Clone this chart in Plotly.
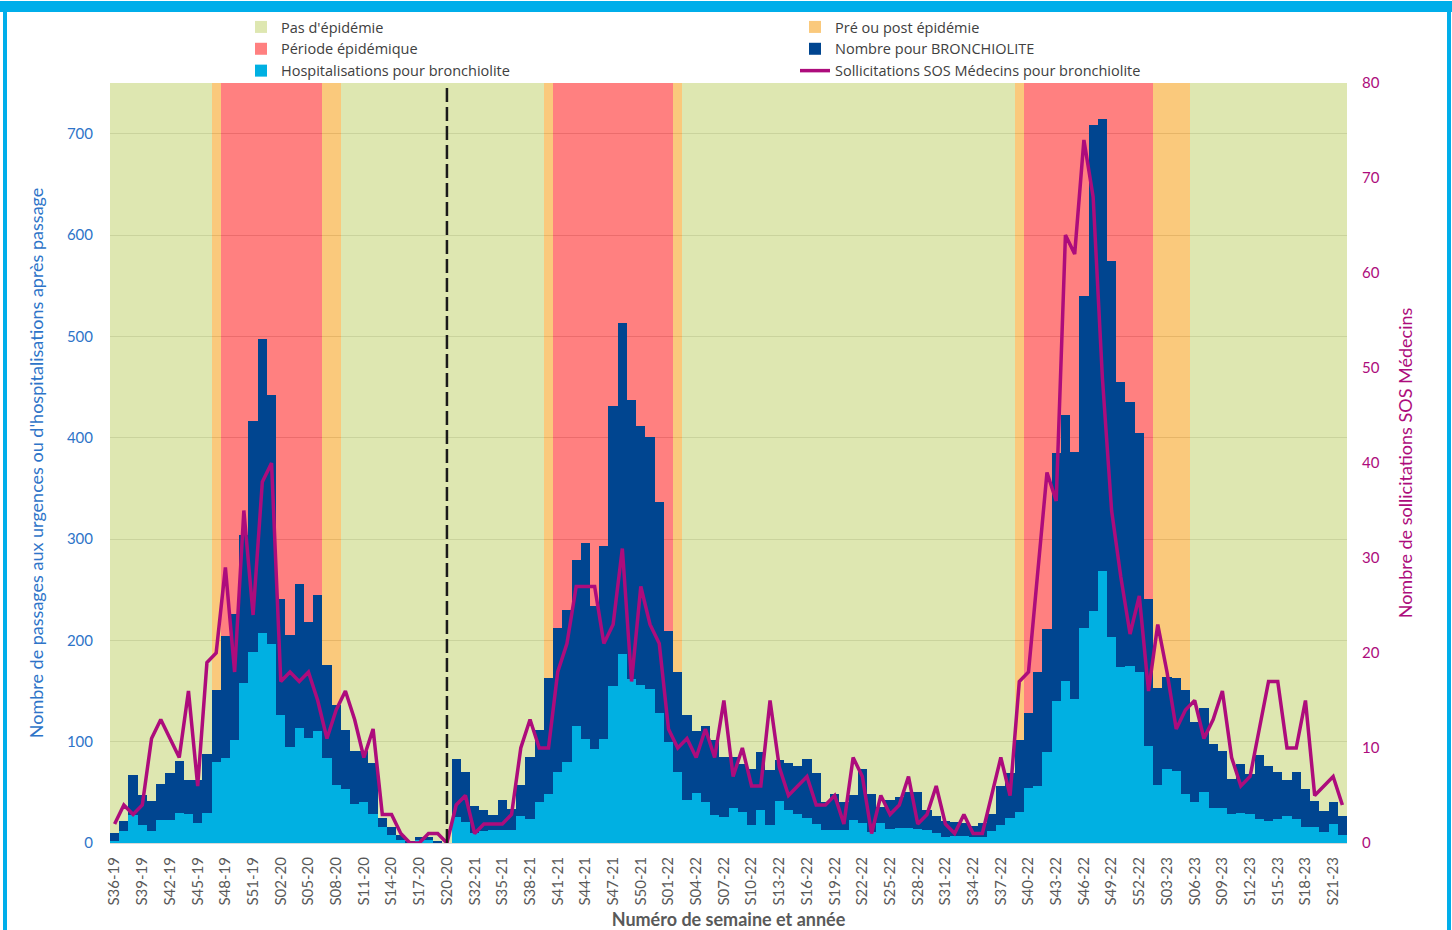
import plotly.graph_objects as go

# ---------------- categories ----------------
def weeks(year, first, last):
    return [f"S{w:02d}-{year % 100:02d}" for w in range(first, last + 1)]

week_ranges = [(2019, 36, 52), (2020, 1, 20), (2021, 30, 52), (2022, 1, 52), (2023, 1, 22)]
categories = [lbl for (yr, a, b) in week_ranges for lbl in weeks(yr, a, b)]
tick_labels = categories[::3]
break_week = "S20-20"

# ---------------- data ----------------
bronchiolite_total = [
    10, 22, 67, 47, 41, 58, 69, 81, 62, 62, 88, 151, 204, 226, 304, 416, 497, 442, 241, 205,
    256, 218, 245, 176, 136, 112, 91, 91, 79, 25, 16, 8, 1, 6, 6, 1, 0,
    83, 70, 37, 33, 28, 42, 34, 57, 85, 112, 163, 212, 230, 279, 296, 234, 293, 431, 513,
    437, 412, 401, 337, 209, 169, 126, 111, 115, 102, 85, 85, 78, 73, 90, 72, 82, 79, 76,
    83, 69, 40, 48, 40, 47, 73, 48, 36, 42, 45, 50, 50, 33, 27, 22, 21, 20, 17, 20, 29,
    56, 69, 102, 128, 169, 211, 385, 422, 386, 540, 709, 714, 574, 455, 435, 405, 241, 153,
    164, 163, 151, 119, 133, 98, 91, 63, 78, 68, 87, 76, 70, 62, 70, 53, 41, 32, 40, 27,
]
hospitalisations = [
    2, 12, 28, 18, 12, 23, 23, 30, 29, 20, 30, 80, 84, 102, 158, 188, 207, 196, 126, 95,
    113, 104, 111, 84, 57, 53, 38, 40, 29, 16, 8, 3, 0, 3, 3, 0, 0,
    26, 21, 10, 12, 13, 13, 13, 27, 24, 40, 48, 70, 80, 115, 103, 93, 103, 155, 187,
    162, 156, 152, 128, 100, 70, 42, 49, 40, 28, 26, 35, 31, 18, 33, 18, 41, 33, 29,
    25, 19, 13, 13, 13, 23, 20, 11, 20, 14, 15, 15, 14, 13, 10, 6, 7, 7, 6, 6, 12,
    18, 25, 31, 54, 56, 90, 140, 160, 142, 212, 229, 268, 203, 174, 175, 169, 96, 57,
    73, 71, 48, 40, 50, 35, 35, 29, 30, 29, 24, 22, 24, 27, 24, 16, 16, 11, 19, 8,
]
sos_medecins = [
    2, 4, 3, 4, 11, 13, 11, 9, 16, 6, 19, 20, 29, 18, 35, 24, 38, 40, 17, 18,
    17, 18, 15, 11, 14, 16, 13, 9, 12, 3, 3, 1, 0, 0, 1, 1, 0,
    4, 5, 1, 2, 2, 2, 3, 10, 13, 10, 10, 18, 21, 27, 27, 27, 21, 23, 31,
    17, 27, 23, 21, 12, 10, 11, 9, 12, 9, 15, 7, 10, 6, 6, 15, 8, 5, 6,
    7, 4, 4, 5, 2, 9, 7, 1, 5, 3, 4, 7, 2, 3, 6, 2, 1, 3, 1, 1, 5,
    9, 5, 17, 18, 29, 39, 36, 64, 62, 74, 68, 49, 35, 28, 22, 26, 16, 23,
    18, 12, 14, 15, 11, 13, 16, 9, 6, 7, 12, 17, 17, 10, 10, 15, 5, 6, 7, 4,
]
# epidemic status per week: N = pas d'épidémie, P = pré/post, E = épidémie
status_runs = [("N", 11), ("P", 1), ("E", 11), ("P", 2), ("N", 22), ("P", 1), ("E", 13),
               ("P", 1), ("N", 36), ("P", 1), ("E", 14), ("P", 4), ("N", 17)]
status = [code for code, n in status_runs for _ in range(n)]

Y_MAX = 750
Y2_MAX = 80

# ---------------- styling ----------------
FONT = "Lato"
LEG_FONT = "Open Sans"
BLUE_TXT = "#2E74C8"
MAGENTA = "#AD0C7C"
GREY_TXT = "#595959"
W, H = 1452, 930
ML, MR, MT, MB = 110, 105, 82, 87
PW, PH = W - ML - MR, H - MT - MB

bands = [
    ("Pas d'épidémie", "N", "rgba(216,227,163,0.85)"),
    ("Pré ou post épidémie", "P", "rgba(249,191,101,0.85)"),
    ("Période épidémique", "E", "rgba(255,106,106,0.85)"),
]

fig = go.Figure()
for name, code, col in bands:
    fig.add_trace(go.Bar(
        x=categories, y=[Y_MAX if s == code else None for s in status],
        name=name, marker=dict(color=col, line=dict(width=0)), hoverinfo="skip"))

fig.add_trace(go.Bar(x=categories, y=bronchiolite_total, name="Nombre pour BRONCHIOLITE",
                     marker=dict(color="#004590", line=dict(width=0))))
fig.add_trace(go.Bar(x=categories, y=hospitalisations, name="Hospitalisations pour bronchiolite",
                     marker=dict(color="#00B0E2", line=dict(width=0))))
fig.add_trace(go.Scatter(x=categories, y=sos_medecins, yaxis="y2", mode="lines",
                         name="Sollicitations SOS Médecins pour bronchiolite",
                         line=dict(color=MAGENTA, width=3.5)))

# dashed break line
fig.add_shape(type="line", xref="x", yref="paper", x0=categories.index(break_week),
              x1=categories.index(break_week), y0=0, y1=1, layer="above",
              line=dict(color="#1a1a1a", width=2.5, dash="14px,5px"))

# frame / banner decoration
def px_x(px):
    return (px - ML) / PW

def px_y(py):
    return 1 - (py - MT) / PH

deco = dict(xref="paper", yref="paper", fillcolor="#00AEEA", line=dict(width=0), layer="above")
fig.add_shape(type="rect", x0=px_x(0), x1=px_x(W), y0=px_y(11), y1=px_y(0), **deco)
fig.add_shape(type="rect", x0=px_x(3), x1=px_x(7), y0=px_y(H), y1=px_y(0), **deco)
fig.add_shape(type="rect", x0=px_x(W - 5), x1=px_x(W - 1), y0=px_y(H), y1=px_y(0), **deco)

fig.update_layout(
    width=W, height=H,
    margin=dict(l=ML, r=MR, t=MT, b=MB),
    paper_bgcolor="white", plot_bgcolor="white",
    barmode="overlay", bargap=0,
    font=dict(family=FONT, size=14, color="#404040"),
    showlegend=True,
    legend=dict(orientation="h", x=px_x(241), xanchor="left", y=px_y(11), yanchor="top",
                entrywidth=509, entrywidthmode="pixels", traceorder="normal",
                font=dict(family=LEG_FONT, size=14.5, color="#404040"), bgcolor="rgba(0,0,0,0)"),
    xaxis=dict(type="category", categoryorder="array", categoryarray=categories,
               range=[-0.5, len(categories) - 0.5],
               tickmode="array", tickvals=tick_labels, ticktext=tick_labels,
               tickangle=-90, tickfont=dict(family=FONT, size=15, color=GREY_TXT),
               ticks="", ticklabelstandoff=7, showgrid=False,
               showline=True, linecolor="#D9D9D9", linewidth=1,
               title=dict(text="<b>Numéro de semaine et année</b>", standoff=10,
                          font=dict(family=FONT, size=18, color=GREY_TXT)),
               automargin=False),
    yaxis=dict(range=[0, Y_MAX], tick0=0, dtick=100, showgrid=True, gridcolor="#7a7a7a",
               gridwidth=1, zeroline=False, ticks="", ticklabelstandoff=16,
               tickfont=dict(family=FONT, size=15, color=BLUE_TXT),
               title=dict(text="Nombre de passages aux urgences ou d'hospitalisations après passage",
                          standoff=18, font=dict(family=FONT, size=18, color=BLUE_TXT)),
               automargin=False),
    yaxis2=dict(range=[0, Y2_MAX], dtick=10, overlaying="y", side="right", showgrid=False,
                zeroline=False, ticks="", ticklabelstandoff=14,
                tickfont=dict(family=FONT, size=15, color=MAGENTA),
                title=dict(text="Nombre de sollicitations SOS Médecins", standoff=20,
                           font=dict(family=FONT, size=18, color=MAGENTA)),
                automargin=False),
)

fig.write_html("out.html", config={"displayModeBar": False},
               post_script="document.body.style.margin='0';")
